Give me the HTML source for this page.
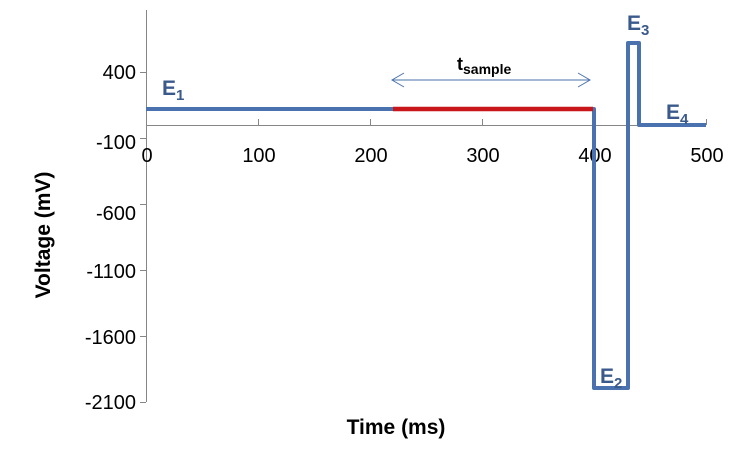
<!DOCTYPE html>
<html><head><style>body{margin:0;background:#fff}svg{display:block}text{font-family:"Liberation Sans",Arial,sans-serif}</style></head>
<body>
<svg width="750" height="459" viewBox="0 0 750 459">
<g stroke="#868686" stroke-width="1" fill="none">
<line x1="146.5" y1="10" x2="146.5" y2="402"/>
<line x1="146" y1="125.5" x2="706" y2="125.5"/>
<line x1="140" y1="72.5" x2="146" y2="72.5"/>
<line x1="140" y1="138.5" x2="146" y2="138.5"/>
<line x1="140" y1="204.5" x2="146" y2="204.5"/>
<line x1="140" y1="270.5" x2="146" y2="270.5"/>
<line x1="140" y1="336.5" x2="146" y2="336.5"/>
<line x1="140" y1="402.5" x2="146" y2="402.5"/>
<line x1="258.5" y1="119" x2="258.5" y2="125"/>
<line x1="370.5" y1="119" x2="370.5" y2="125"/>
<line x1="482.5" y1="119" x2="482.5" y2="125"/>
<line x1="594.5" y1="119" x2="594.5" y2="125"/>
<line x1="706.5" y1="119" x2="706.5" y2="125"/>
</g>
<g font-size="20" fill="#000" text-anchor="end">
<text x="136" y="79">400</text>
<text x="136" y="149">-100</text>
<text x="136" y="220">-600</text>
<text x="136" y="278">-1100</text>
<text x="136" y="344">-1600</text>
<text x="136" y="409">-2100</text>
</g>
<g font-size="20" fill="#000" text-anchor="middle">
<text x="147" y="162">0</text>
<text x="259" y="162">100</text>
<text x="371" y="162">200</text>
<text x="483" y="162">300</text>
<text x="595" y="162">400</text>
<text x="707" y="162">500</text>
</g>
<text x="396" y="434" font-size="21" font-weight="bold" text-anchor="middle">Time (ms)</text>
<text transform="translate(50,235) rotate(-90)" font-size="21" font-weight="bold" text-anchor="middle">Voltage (mV)</text>
<polyline points="146,109 594,109 594,388 628,388 628,43 639,43 639,125 706,125" fill="none" stroke="#4a72ae" stroke-width="4" stroke-linejoin="round"/>
<line x1="393" y1="109" x2="593" y2="109" stroke="#c8161b" stroke-width="4.5"/>
<g stroke="#4a72ae" stroke-width="1" fill="none">
<line x1="392" y1="80" x2="590" y2="80"/>
<polyline points="404,73 392,80 404,87"/>
<polyline points="578,73 590,80 578,87"/>
</g>
<text x="457" y="70" font-size="18" font-weight="bold">t<tspan font-size="14" dy="4">sample</tspan></text>
<g fill="#3b5a8c" font-weight="bold" font-size="21">
<text x="162" y="95">E<tspan font-size="15" dy="5">1</tspan></text>
<text x="600" y="383">E<tspan font-size="15" dy="5">2</tspan></text>
<text x="627" y="30">E<tspan font-size="15" dy="5">3</tspan></text>
<text x="666" y="119">E<tspan font-size="15" dy="5">4</tspan></text>
</g>
</svg>
</body></html>
